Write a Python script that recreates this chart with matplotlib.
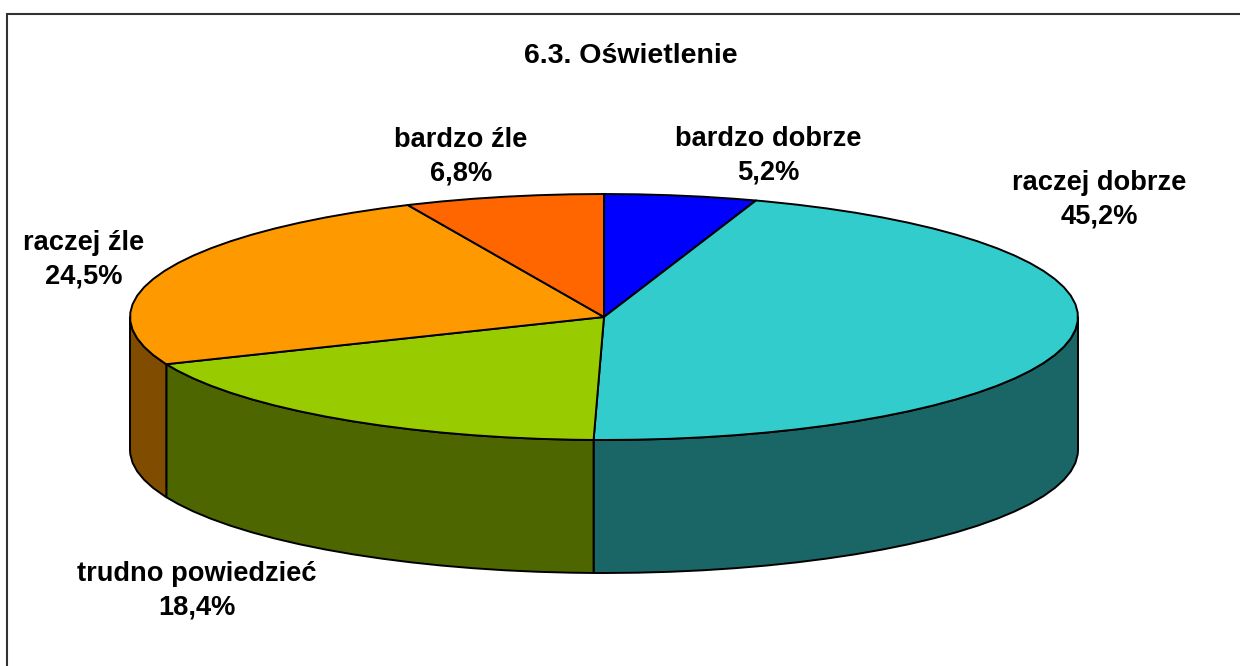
import numpy as np
import matplotlib
matplotlib.use("Agg")
import matplotlib.pyplot as plt
from matplotlib.patches import Polygon, Rectangle

title = "6.3. Oświetlenie"
labels = ["bardzo dobrze", "raczej dobrze", "trudno powiedzieć", "raczej źle", "bardzo źle"]
values = [5.2, 45.2, 18.4, 24.5, 6.8]
top_colors = ["#0000FF", "#33CCCC", "#99CC00", "#FF9900", "#FF6600"]
side_colors = ["#000080", "#1A6666", "#4D6600", "#804D00", "#803300"]
label_pos = [(768, 156), (1099, 200), (197, 591), (84, 260), (461, 157)]

CX, CY, RX, RY, DEPTH = 604, 317, 474, 123, 133
STEP = np.radians(4)

fig = plt.figure(figsize=(12.4, 6.66), dpi=100)
ax = fig.add_axes([0, 0, 1, 1])
ax.set_xlim(0, 1240)
ax.set_ylim(666, 0)
ax.axis("off")
ax.add_patch(Rectangle((7, 14), 1240, 800, fc="white", ec="#333333", lw=1.5))

def rim(a0, a1, dy=0):
    inner = np.arange(np.ceil(a0 / STEP), np.floor(a1 / STEP) + 1) * STEP
    t = np.unique(np.concatenate([[a0], inner, [a1]]))
    return np.column_stack([CX + RX * np.sin(t), CY + dy - RY * np.cos(t)])

fr = np.array(values) / sum(values)
edges = np.concatenate([[0], np.cumsum(fr)]) * 2 * np.pi

# side walls (visible front half only: pi/2 .. 3pi/2)
for i in range(len(values)):
    a0, a1 = max(edges[i], np.pi / 2), min(edges[i + 1], 3 * np.pi / 2)
    if a1 > a0:
        up = rim(a0, a1)
        down = rim(a0, a1, DEPTH)[::-1]
        ax.add_patch(Polygon(np.vstack([up, down]), closed=True, fc=side_colors[i],
                             ec="black", lw=1.4, joinstyle="round"))
# top faces
for i in range(len(values)):
    pts = np.vstack([[(CX, CY)], rim(edges[i], edges[i + 1])])
    ax.add_patch(Polygon(pts, closed=True, fc=top_colors[i], ec="black", lw=1.4,
                         joinstyle="round"))

font = dict(family="Liberation Sans", fontweight="bold", color="black", ha="center", va="center")
ax.text(631, 56, title, fontsize=20.5, **font)
for lab, v, (x, y) in zip(labels, values, label_pos):
    ax.text(x, y, f"{lab}\n{v:.1f}%".replace(".", ","), fontsize=19.6, linespacing=1.36, **font)

fig.savefig("out.png", dpi=100)
